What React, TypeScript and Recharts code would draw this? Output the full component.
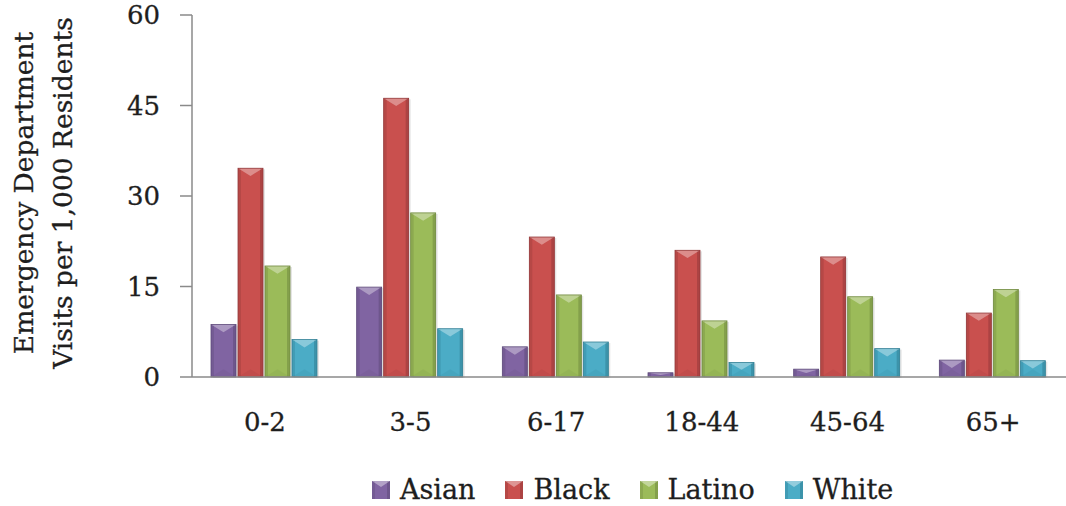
import React from "react";
import {
  BarChart,
  Bar,
  XAxis,
  YAxis,
  Legend,
} from "recharts";

const ageGroups = ["0-2", "3-5", "6-17", "18-44", "45-64", "65+"];
const asianVisits = [8.7, 14.9, 5.0, 0.7, 1.3, 2.8];
const blackVisits = [34.6, 46.2, 23.2, 21.0, 19.9, 10.6];
const latinoVisits = [18.4, 27.2, 13.6, 9.3, 13.3, 14.5];
const whiteVisits = [6.2, 8.0, 5.8, 2.4, 4.7, 2.7];
const yTicks = [0, 15, 30, 45, 60];

const SERIES = [
  { key: "Asian", fill: "#8064A2", dark: "#5E4A7A" },
  { key: "Black", fill: "#C9504E", dark: "#93393A" },
  { key: "Latino", fill: "#9BBB59", dark: "#718A40" },
  { key: "White", fill: "#4BACC6", dark: "#327F94" },
];

const data = ageGroups.map((name, i) => ({
  name,
  Asian: asianVisits[i],
  Black: blackVisits[i],
  Latino: latinoVisits[i],
  White: whiteVisits[i],
}));

const FONT = "'DejaVu Serif', 'Liberation Serif', serif";
const TEXT = "#1e1e1e";
const AXIS = "#8a8a8a";

// bevelled bar, like the old office 3d-ish style
const bevelShape = (dark: string) => (props: any) => {
  const { x, y, width, height, fill } = props;
  if (!height || height <= 0) return <g />;
  const edge = Math.min(3, width / 6);
  const tip = Math.min(width / 3.2, height / 2);
  return (
    <g>
      <rect x={x + 2} y={y + 1} width={width} height={height} fill="rgba(0,0,0,0.10)" />
      <rect x={x} y={y} width={width} height={height} fill={fill} />
      <rect x={x} y={y} width={edge} height={height} fill={dark} opacity={0.35} />
      <rect x={x + width - edge} y={y} width={edge} height={height} fill={dark} opacity={0.55} />
      <polygon
        points={`${x},${y} ${x + width},${y} ${x + width / 2},${y + tip}`}
        fill="#ffffff"
        opacity={0.35}
      />
      <polygon
        points={`${x},${y + height} ${x + width},${y + height} ${x + width / 2},${y + height - Math.min(tip, height / 2)}`}
        fill={dark}
        opacity={0.15}
      />
      <rect x={x} y={y} width={width} height={height} fill="none" stroke={dark} strokeWidth={0.8} />
    </g>
  );
};

const YTitle = () => (
  <g fontFamily={FONT} fontSize={26.5} fill={TEXT} stroke={TEXT} strokeWidth={0.3}>
    <text transform="translate(33, 193) rotate(-90)" textAnchor="middle">
      Emergency Department
    </text>
    <text transform="translate(72, 193) rotate(-90)" textAnchor="middle">
      Visits per 1,000 Residents
    </text>
  </g>
);

const LegendRow = () => (
  <div
    style={{
      display: "flex",
      alignItems: "center",
      fontFamily: FONT,
      fontSize: 27,
      color: TEXT,
      WebkitTextStroke: "0.3px #1e1e1e",
    }}
  >
    {SERIES.map((s) => (
      <div key={s.key} style={{ display: "flex", alignItems: "center", marginRight: 30 }}>
        <svg width={18} height={18} style={{ marginRight: 10 }}>
          <rect x={0} y={0} width={18} height={18} fill={s.fill} />
          <rect x={0} y={0} width={3} height={18} fill={s.dark} opacity={0.35} />
          <rect x={15} y={0} width={3} height={18} fill={s.dark} opacity={0.55} />
          <polygon points="0,0 18,0 9,6" fill="#fff" opacity={0.4} />
        </svg>
        <span>{s.key}</span>
      </div>
    ))}
  </div>
);

const tickStyle = { fill: TEXT, fontSize: 26, fontFamily: FONT, stroke: TEXT, strokeWidth: 0.3 };

export default function App() {
  return (
    <div style={{ position: "fixed", left: 0, top: 0, width: 1066, height: 506, background: "#fff" }}>
      <BarChart
        width={1066}
        height={506}
        data={data}
        margin={{ top: 15, right: 0, bottom: 0, left: 92 }}
        barCategoryGap={19}
        barGap={2}
      >
        <XAxis
          dataKey="name"
          height={129}
          tickLine={false}
          tickMargin={30}
          axisLine={{ stroke: AXIS, strokeWidth: 1.5 }}
          tick={tickStyle}
        />
        <YAxis
          width={100}
          domain={[0, 60]}
          ticks={yTicks}
          tickSize={12}
          tickMargin={20}
          axisLine={{ stroke: AXIS, strokeWidth: 1.5 }}
          tickLine={{ stroke: AXIS, strokeWidth: 1.5 }}
          tick={tickStyle}
          label={{ content: () => <YTitle /> }}
        />
        <Legend
          verticalAlign="middle"
          align="center"
          layout="horizontal"
          wrapperStyle={{ top: 474, left: 372, width: "auto" }}
          content={() => <LegendRow />}
        />
        {SERIES.map((s) => (
          <Bar
            key={s.key}
            dataKey={s.key}
            fill={s.fill}
            shape={bevelShape(s.dark)}
            isAnimationActive={false}
          />
        ))}
      </BarChart>
    </div>
  );
}
